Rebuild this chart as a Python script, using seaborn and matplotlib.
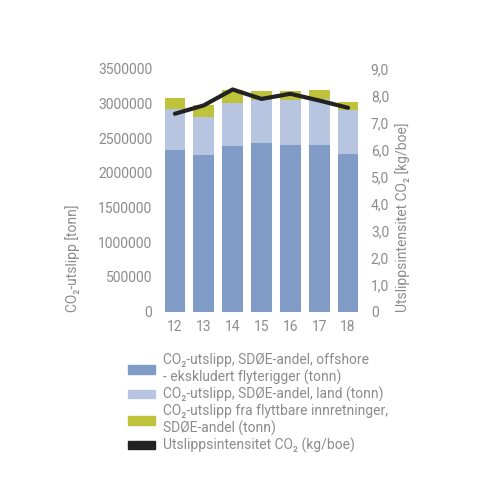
import matplotlib
matplotlib.use("Agg")
import matplotlib.pyplot as plt
import seaborn as sns
import pandas as pd
from matplotlib.patches import Patch

# values
years = ["12", "13", "14", "15", "16", "17", "18"]
offshore = [2334000, 2258000, 2392000, 2435000, 2402000, 2397000, 2276000]
land = [591000, 547000, 615000, 611000, 648000, 663000, 630000]
flyttbare = [159000, 173000, 193000, 138000, 134000, 144000, 111000]
intensitet = [7.34, 7.65, 8.24, 7.89, 8.08, 7.83, 7.56]

df = pd.DataFrame({"aar": years, "offshore": offshore, "land": land,
                   "flyttbare": flyttbare, "intensitet": intensitet})
df["sum_land"] = df["offshore"] + df["land"]
df["sum_alle"] = df["sum_land"] + df["flyttbare"]

c_off = "#7f9bc6"
c_land = "#b7c5e1"
c_fly = "#bec33b"
c_line = "#222222"
grey = "#8c8c8c"

sns.set_style("white")
plt.rcParams["font.family"] = ["Roboto", "DejaVu Sans"]

fig = plt.figure(figsize=(5, 5), dpi=100)
ax = fig.add_axes([0.321, 0.377, 0.404, 0.485])

# stacked bars drawn from the top down
for col, c in [("sum_alle", c_fly), ("sum_land", c_land), ("offshore", c_off)]:
    sns.barplot(data=df, x="aar", y=col, color=c, width=0.72, ax=ax,
                saturation=1, linewidth=0)

ax.set_ylim(0, 3500000)
ax.set_yticks(range(0, 3500001, 500000))
ax.set_yticklabels([str(v) for v in range(0, 3500001, 500000)])
ax.set_xlim(-0.5, 6.5)
ax.set_xlabel("")
ax.set_ylabel("CO₂-utslipp [tonn]", color=grey, fontsize=10, loc="bottom", labelpad=13)
ax.tick_params(colors=grey, labelsize=10, length=0, pad=6)
for s in ax.spines.values():
    s.set_visible(False)

ax2 = ax.twinx()
sns.lineplot(data=df, x="aar", y="intensitet", color=c_line, linewidth=3, ax=ax2, sort=False)
ax2.set_ylim(0, 9)
ax2.set_yticks(range(0, 10))
ax2.set_yticklabels(["0"] + [f"{v},0" for v in range(1, 10)])
ax2.set_ylabel("Utslippsintensitet CO₂ [kg/boe]", color=grey, fontsize=10, loc="bottom")
ax2.tick_params(colors=grey, labelsize=10, length=0, pad=6)
for s in ax2.spines.values():
    s.set_visible(False)
ax2.set_xlim(-0.5, 6.5)

handles = [Patch(color=c_off), Patch(color=c_land), Patch(color=c_fly), Patch(color=c_line)]
labels = ["CO₂-utslipp, SDØE-andel, offshore\n- ekskludert flyterigger (tonn)",
          "CO₂-utslipp, SDØE-andel, land (tonn)",
          "CO₂-utslipp fra flyttbare innretninger,\nSDØE-andel (tonn)",
          "Utslippsintensitet CO₂ (kg/boe)"]
leg = fig.legend(handles, labels, loc="upper left", bbox_to_anchor=(0.245, 0.305),
                 frameon=False, fontsize=10, handlelength=1.95, handleheight=0.55,
                 handletextpad=0.6, labelspacing=0.14, borderaxespad=0)
for t in leg.get_texts():
    t.set_color(grey)

fig.savefig("out.png", dpi=100)
